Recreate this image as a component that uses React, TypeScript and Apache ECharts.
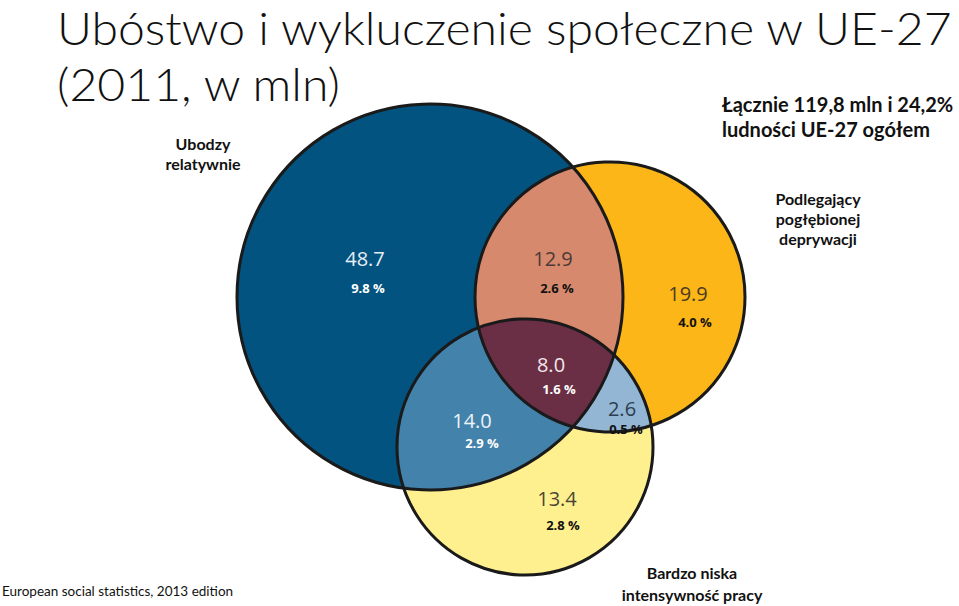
import React, { useEffect, useRef } from "react";
import * as echarts from "echarts";

// ---- data ----
const regionNames = [
  "Tylko ubóstwo relatywne",
  "Tylko pogłębiona deprywacja",
  "Tylko bardzo niska intensywność pracy",
  "Ubóstwo + deprywacja",
  "Ubóstwo + niska intensywność pracy",
  "Deprywacja + niska intensywność pracy",
  "Wszystkie trzy",
];
const regionValues = [48.7, 19.9, 13.4, 12.9, 14.0, 2.6, 8.0];
const regionShares = [9.8, 4.0, 2.8, 2.6, 2.9, 0.5, 1.6];
const setLabels = ["Ubodzy\nrelatywnie", "Podlegający\npogłębionej\ndeprywacji", "Bardzo niska\nintensywność pracy"];
const totalLabel = "Łącznie 119,8 mln i 24,2%\nludności UE-27 ogółem";
const titleLines = ["Ubóstwo i wykluczenie społeczne w UE-27", "(2011, w mln)"];
const sourceText = "European social statistics, 2013 edition";

// ---- layout (pixels) ----
const W = 959;
const H = 606;
const CIRCLES = [
  { cx: 430, cy: 297, r: 193 },
  { cx: 610, cy: 297, r: 135 },
  { cx: 525, cy: 447, r: 128 },
];
const MEMBERS = [[0], [1], [2], [0, 1], [0, 2], [1, 2], [0, 1, 2]];
const FILLS = ["#02537f", "#fcb617", "#fff08f", "#d7896d", "#4382ab", "#93b6d4", "#6b2f45"];
const NUM_COLORS = ["#e8eef5", "#4a3b22", "#4a4636", "#4b3a37", "#eef3f8", "#2c3e50", "#f2e6ea"];
const PCT_COLORS = ["#ffffff", "#111111", "#111111", "#111111", "#ffffff", "#111111", "#ffffff"];
const NUM_POS = [[365, 265], [688, 300], [557, 505], [553, 265], [472, 427], [622, 415], [551, 371]];
const PCT_POS = [[368, 293], [695, 327], [563, 530], [557, 293], [482, 448], [626, 434], [559, 394]];

function regionPoints(sets: number[]): number[][] {
  const N = 1440;
  const pts: number[][] = [];
  for (const i of sets) {
    const c = CIRCLES[i];
    for (let k = 0; k < N; k++) {
      const t = (2 * Math.PI * k) / N;
      const x = c.cx + c.r * Math.cos(t);
      const y = c.cy + c.r * Math.sin(t);
      let ok = true;
      for (const j of sets) {
        if (j === i) continue;
        const d = Math.hypot(x - CIRCLES[j].cx, y - CIRCLES[j].cy);
        if (d > CIRCLES[j].r + 1e-6) { ok = false; break; }
      }
      if (ok) pts.push([x, y]);
    }
  }
  let mx = 0, my = 0;
  pts.forEach((p) => { mx += p[0]; my += p[1]; });
  mx /= pts.length; my /= pts.length;
  pts.sort((a, b) => Math.atan2(a[1] - my, a[0] - mx) - Math.atan2(b[1] - my, b[0] - mx));
  return pts;
}

export default function App() {
  const ref = useRef<HTMLDivElement>(null);
  useEffect(() => {
    document.body.style.margin = "0";
    const chart = echarts.init(ref.current!, undefined, { renderer: "svg" });
    const data = regionValues.map((v, i) => ({ name: regionNames[i], value: [i, v, regionShares[i]] }));
    const option: any = {
      animation: false,
      backgroundColor: "#ffffff",
      grid: { left: 0, right: 0, top: 0, bottom: 0 },
      xAxis: { type: "value", min: 0, max: W, show: false },
      yAxis: { type: "value", min: 0, max: H, inverse: true, show: false },
      series: [
        {
          type: "custom",
          coordinateSystem: "cartesian2d",
          data,
          renderItem: (params: any, api: any) => {
            const idx = api.value(0);
            const val = api.value(1);
            const share = api.value(2);
            const sets = MEMBERS[idx];
            const children: any[] = [];
            if (sets.length === 1) {
              const c = CIRCLES[sets[0]];
              const p = api.coord([c.cx, c.cy]);
              const p2 = api.coord([c.cx + c.r, c.cy]);
              const r = p2[0] - p[0];
              children.push({
                type: "circle", z2: idx,
                shape: { cx: p[0], cy: p[1], r },
                style: { fill: FILLS[idx], stroke: "none" },
              });
              children.push({
                type: "circle", z2: 100,
                shape: { cx: p[0], cy: p[1], r },
                style: { fill: "none", stroke: "#1a1a1a", lineWidth: 3 },
              });
            } else {
              const pts = regionPoints(sets).map((q) => api.coord(q));
              children.push({
                type: "polygon", z2: 10 + idx,
                shape: { points: pts },
                style: { fill: FILLS[idx], stroke: "none" },
              });
            }
            const np = api.coord(NUM_POS[idx]);
            const pp = api.coord(PCT_POS[idx]);
            children.push({
              type: "text", z2: 200,
              x: np[0], y: np[1] - 7,
              style: {
                text: val.toFixed(1), fill: NUM_COLORS[idx],
                font: "normal 20px 'Open Sans'", align: "center", verticalAlign: "middle", lineHeight: 18,
              },
            });
            children.push({
              type: "text", z2: 200,
              x: pp[0], y: pp[1] - 5,
              style: {
                text: share.toFixed(1) + " %", fill: PCT_COLORS[idx],
                font: "bold 13px 'Open Sans'", align: "center", verticalAlign: "middle", lineHeight: 12,
              },
            });
            return { type: "group", children };
          },
        },
      ],
      graphic: [
        {
          type: "text", x: 57, y: 27.5, scaleX: 1.07,
          style: { text: titleLines[0], font: "300 45px Lato", fill: "#111111", verticalAlign: "middle", lineHeight: 40 },
        },
        {
          type: "text", x: 57, y: 83.5, scaleX: 1.07,
          style: { text: titleLines[1], font: "300 45px Lato", fill: "#111111", verticalAlign: "middle", lineHeight: 40 },
        },
        {
          type: "text", left: 722, top: 91,
          style: { text: totalLabel, font: "bold 20px Lato", fill: "#111111", lineHeight: 25 },
        },
        {
          type: "text", x: 818, y: 188,
          style: { text: setLabels[1], font: "bold 16px Lato", fill: "#111111", align: "center", lineHeight: 20 },
        },
        {
          type: "text", x: 203, y: 133,
          style: { text: setLabels[0], font: "bold 16px Lato", fill: "#111111", align: "center", lineHeight: 20 },
        },
        {
          type: "text", x: 692, y: 561,
          style: { text: setLabels[2], font: "bold 16px Lato", fill: "#111111", align: "center", lineHeight: 22 },
        },
        {
          type: "text", left: 2, top: 584,
          style: { text: sourceText, font: "13.5px Lato", fill: "#111111" },
        },
      ],
    };
    chart.setOption(option);
    return () => chart.dispose();
  }, []);
  return <div ref={ref} style={{ width: W, height: H }} />;
}
